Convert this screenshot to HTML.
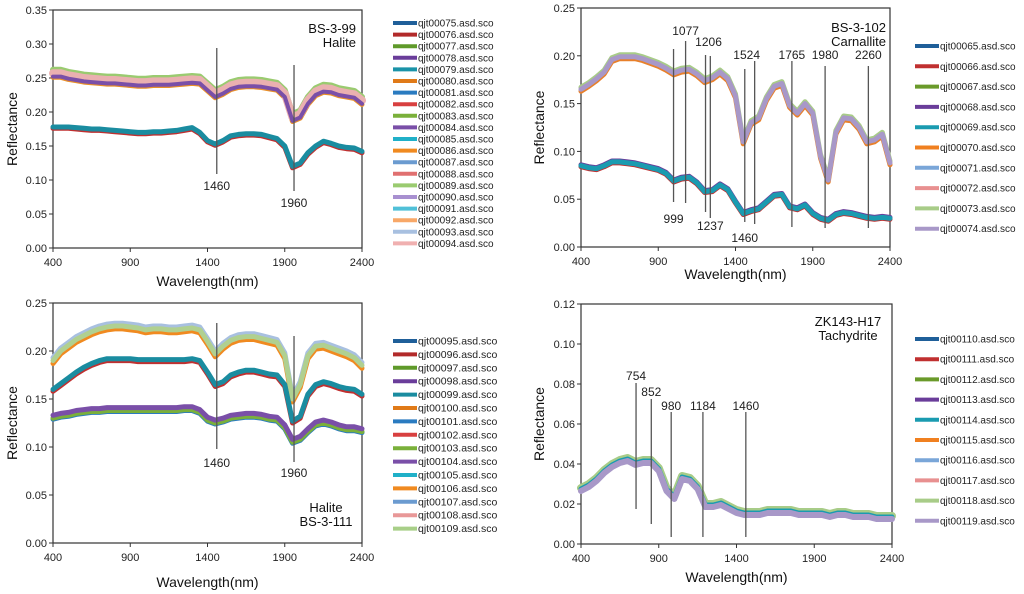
<!DOCTYPE html>
<html><head><meta charset="utf-8"><style>
body{margin:0;background:#fff;}
svg{display:block;font-family:"Liberation Sans",sans-serif;}
</style></head><body>
<svg id="fig" width="1024" height="594" viewBox="0 0 1024 594"></svg>
<script>
const wl = [400,450,500,550,600,650,700,750,800,850,900,950,1000,1050,1100,1150,1200,1250,1300,1350,1400,1450,1500,1550,1600,1650,1700,1750,1800,1850,1900,1950,2000,2050,2100,2150,2200,2250,2300,2350,2400];
const p1Upper = [0.255,0.255,0.252,0.25,0.248,0.247,0.246,0.245,0.245,0.244,0.243,0.242,0.242,0.243,0.243,0.243,0.244,0.245,0.246,0.245,0.235,0.225,0.23,0.237,0.24,0.241,0.241,0.24,0.238,0.236,0.225,0.19,0.195,0.215,0.228,0.233,0.232,0.228,0.226,0.224,0.215];
const p1Lower = [0.178,0.178,0.178,0.177,0.176,0.175,0.175,0.174,0.173,0.172,0.171,0.170,0.170,0.171,0.171,0.172,0.173,0.175,0.177,0.170,0.158,0.153,0.158,0.165,0.167,0.168,0.168,0.167,0.164,0.161,0.150,0.120,0.125,0.140,0.150,0.157,0.154,0.150,0.148,0.147,0.142];
const p2Upper = [0.165,0.170,0.176,0.183,0.196,0.199,0.199,0.199,0.197,0.194,0.191,0.187,0.182,0.185,0.186,0.181,0.174,0.177,0.183,0.176,0.158,0.11,0.13,0.135,0.155,0.168,0.171,0.148,0.14,0.15,0.14,0.095,0.07,0.12,0.135,0.134,0.125,0.11,0.112,0.118,0.088];
const p2Lower = [0.085,0.083,0.082,0.085,0.089,0.089,0.088,0.087,0.085,0.083,0.081,0.077,0.069,0.072,0.073,0.067,0.058,0.059,0.065,0.06,0.047,0.035,0.038,0.04,0.047,0.054,0.055,0.042,0.04,0.044,0.035,0.03,0.028,0.034,0.036,0.035,0.033,0.031,0.03,0.031,0.03];
const p3Top = [0.19,0.2,0.206,0.212,0.216,0.22,0.223,0.225,0.226,0.226,0.225,0.224,0.222,0.223,0.223,0.222,0.222,0.223,0.224,0.222,0.21,0.197,0.205,0.211,0.214,0.215,0.215,0.213,0.211,0.209,0.195,0.15,0.165,0.195,0.205,0.206,0.203,0.2,0.197,0.193,0.185];
const p3Mid = [0.16,0.166,0.172,0.178,0.183,0.187,0.19,0.192,0.192,0.192,0.192,0.191,0.191,0.191,0.191,0.191,0.191,0.191,0.192,0.19,0.178,0.165,0.168,0.175,0.178,0.18,0.18,0.178,0.176,0.175,0.165,0.127,0.132,0.155,0.165,0.168,0.166,0.163,0.161,0.16,0.155];
const p3Bot = [0.132,0.134,0.135,0.137,0.138,0.139,0.139,0.14,0.14,0.14,0.14,0.14,0.14,0.14,0.14,0.14,0.14,0.141,0.141,0.138,0.13,0.127,0.129,0.132,0.133,0.134,0.134,0.133,0.131,0.13,0.122,0.107,0.11,0.118,0.125,0.127,0.125,0.122,0.12,0.12,0.118];
const p4Main = [0.027,0.029,0.032,0.036,0.039,0.041,0.042,0.04,0.041,0.041,0.037,0.027,0.023,0.033,0.032,0.028,0.019,0.019,0.02,0.018,0.016,0.015,0.015,0.015,0.016,0.016,0.016,0.016,0.015,0.015,0.015,0.015,0.014,0.015,0.015,0.014,0.014,0.014,0.013,0.013,0.013];
const xTicks = [400,900,1400,1900,2400];
const p1Legend = ['qjt00075','qjt00076','qjt00077','qjt00078','qjt00079','qjt00080','qjt00081','qjt00082','qjt00083','qjt00084','qjt00085','qjt00086','qjt00087','qjt00088','qjt00089','qjt00090','qjt00091','qjt00092','qjt00093','qjt00094'];
const p2Legend = ['qjt00065','qjt00066','qjt00067','qjt00068','qjt00069','qjt00070','qjt00071','qjt00072','qjt00073','qjt00074'];
const p3Legend = ['qjt00095','qjt00096','qjt00097','qjt00098','qjt00099','qjt00100','qjt00101','qjt00102','qjt00103','qjt00104','qjt00105','qjt00106','qjt00107','qjt00108','qjt00109'];
const p4Legend = ['qjt00110','qjt00111','qjt00112','qjt00113','qjt00114','qjt00115','qjt00116','qjt00117','qjt00118','qjt00119'];
const p1Marks = [1460,1960];
const p2Marks = [999,1077,1206,1237,1460,1524,1765,1980,2260];
const p4Marks = [754,852,980,1184,1460];

const pal20 = ['#1f5f99','#b22a2a','#5f9a2a','#6a3d9a','#1a93a8','#e07a18','#2a7bc0','#d84040','#7ab03a','#7a4fa8','#20b0c8','#f08a20','#6b9bd0','#e07070','#9acb70','#a890d0','#50c0d8','#f8a868','#a8c0e0','#f0b0b0'];
const pal10 = ['#1f5f99','#c03030','#6a9a2a','#6a3d9a','#1a9bb0','#f08020','#7aa6d8','#e89090','#a8cc88','#a898c8'];
const pal15 = ['#1f5f99','#b22a2a','#5f9a2a','#6a3d9a','#1a8ca0','#e07a18','#2a7bc0','#d84040','#7ab03a','#7a4fa8','#20b0c8','#f08a20','#6b9bd0','#e89898','#a8cf88'];

const svg = document.getElementById('fig');
const NS = 'http://www.w3.org/2000/svg';
function mk(tag, attrs, parent){const e=document.createElementNS(NS,tag);for(const k in attrs)e.setAttribute(k,attrs[k]);(parent||svg).appendChild(e);return e;}
function txt(s, attrs, parent){const e=mk('text',attrs,parent);e.textContent=s;return e;}

function panel(cfg){
  const g = mk('g',{});
  
  
  const X = w => cfg.x0 + (w-400)/2000*(cfg.x1-cfg.x0);
  const Y = v => cfg.y1 - v/cfg.ymax*(cfg.y1-cfg.y0);
  const fr = mk('rect',{x:cfg.x0,y:cfg.y0,width:cfg.x1-cfg.x0,height:cfg.y1-cfg.y0,fill:'none',stroke:'#333','stroke-width':1.2},g);
  
  
  cfg.yTicks.forEach(v=>{
    mk('line',{x1:cfg.x0-4,x2:cfg.x0,y1:Y(v),y2:Y(v),stroke:'#333'},g);
    const t = txt(v.toFixed(2),{x:cfg.x0-6,y:Y(v)+4,'font-size':11,'text-anchor':'end',fill:'#222'},g);
    
    
  });
  xTicks.forEach(w=>{
    mk('line',{x1:X(w),x2:X(w),y1:cfg.y1,y2:cfg.y1+4,stroke:'#333'},g);
    const t = txt(String(w),{x:X(w),y:cfg.y1+18,'font-size':11,'text-anchor':'middle',fill:'#222'},g);
    
    
  });
  const xt = txt('Wavelength(nm)',{x:(cfg.x0+cfg.x1)/2,y:cfg.xTitleY,'font-size':14,'text-anchor':'middle',fill:'#111'},g);
  
  
  const cy=(cfg.y0+cfg.y1)/2;
  const tg = mk('g',{transform:`translate(${cfg.yTitleX} ${cy}) rotate(-90)`},g);
  const yt = txt('Reflectance',{x:0,y:0,'font-size':14,'text-anchor':'middle',fill:'#111'},tg);
  
  
  cfg.series.forEach(s=>{
    const pts = wl.map((w,i)=>X(w).toFixed(1)+','+Y(s.data[i]+(s.off||0)).toFixed(1)).join(' ');
    const pl = mk('polyline',{points:pts,fill:'none',stroke:s.color,'stroke-width':s.w||5,'stroke-linejoin':'round','stroke-linecap':'round'},g);
    
    
  });
  cfg.marks.forEach((w,i)=>{
    const m = cfg.markGeo[i];
    const ln = mk('line',{x1:X(w),x2:X(w),y1:m[0],y2:m[1],stroke:'#555','stroke-width':1.3},g);
    
    
    const t = txt(String(w),{x:X(w)+(m[3]||0),y:m[2],'font-size':12,'text-anchor':'middle',fill:'#222'},g);
    
    
  });
  cfg.title.forEach((s,i)=>{
    const t = txt(s,{x:cfg.titleX,y:cfg.titleY+i*14,'font-size':13,'text-anchor':cfg.titleAnchor||'end',fill:'#111'},g);
    
    
  });
  cfg.legend.forEach((n,i)=>{
    const y = cfg.legY + i*cfg.legDy;
    const lg = mk('g',{},g);
    
    
    mk('line',{x1:cfg.legX,x2:cfg.legX+24,y1:y,y2:y,stroke:cfg.pal[i],'stroke-width':4},lg);
    txt(n+'.asd.sco',{x:cfg.legX+25,y:y+3.5,'font-size':cfg.legFs||10,fill:'#222'},lg);
  });
}

panel({name:'panel-bs-3-99-halite',x0:53,x1:362,y0:10,y1:248,ymax:0.35,yTicks:[0,0.05,0.1,0.15,0.2,0.25,0.3,0.35],
  xTitleY:286,yTitleX:17,
  series:[{name:'upper-orange',data:p1Upper,color:'#e8902a',off:-0.004},{name:'upper-green',data:p1Upper,color:'#9acb70',off:0.007,w:6},{name:'upper-pink',data:p1Upper,color:'#eab0b0',off:0.002,w:8},{name:'upper-purple',data:p1Upper,color:'#7a4fa8',off:-0.003,w:4},
    {name:'lower-red',data:p1Lower,color:'#c03030',off:-0.002},{name:'lower-teal',data:p1Lower,color:'#1a8ca0',off:0}],
  marks:p1Marks,markGeo:[[48,174,190],[65,191,207]],
  title:['BS-3-99','Halite'],titleX:356,titleY:33,
  legend:p1Legend,pal:pal20,legX:393,legY:23,legDy:11.6,legFs:10});

panel({name:'panel-bs-3-102-carnallite',x0:581,x1:890,y0:8,y1:247,ymax:0.25,yTicks:[0,0.05,0.1,0.15,0.2,0.25],
  xTitleY:279,yTitleX:544,
  series:[{name:'upper-orange',data:p2Upper,color:'#e8802a',off:-0.002},{name:'upper-green',data:p2Upper,color:'#a8cc88',off:0.002},{name:'upper-lavender',data:p2Upper,color:'#a898c8',off:0},
    {name:'lower-red',data:p2Lower,color:'#c03030',off:-0.001},{name:'lower-purple',data:p2Lower,color:'#6a3d9a',off:0.001},{name:'lower-teal',data:p2Lower,color:'#1a9bb0',off:0}],
  marks:p2Marks,markGeo:[[49,202,223],[41,203,35],[55,212,46,3],[56,218,230],[69,222,242],[61,224,59,-8],[61,227,59],[66,228,59],[66,228,59]],
  title:['BS-3-102','Carnallite'],titleX:886,titleY:32,
  legend:p2Legend,pal:pal10,legX:915,legY:46,legDy:20.3});

panel({name:'panel-bs-3-111-halite',x0:53,x1:362,y0:303,y1:543,ymax:0.25,yTicks:[0,0.05,0.1,0.15,0.2,0.25],
  xTitleY:587,yTitleX:17,
  series:[{name:'top-orange',data:p3Top,color:'#f08a20',off:-0.003},{name:'top-blue',data:p3Top,color:'#a8c0e0',off:0.003},{name:'top-green',data:p3Top,color:'#b0d090',off:0},
    {name:'mid-red',data:p3Mid,color:'#c03030',off:-0.002},{name:'mid-teal',data:p3Mid,color:'#1a8ca0',off:0},
    {name:'bot-blue',data:p3Bot,color:'#2a7bc0',off:-0.003},{name:'bot-green',data:p3Bot,color:'#7ab03a',off:-0.002},{name:'bot-purple',data:p3Bot,color:'#7a4fa8',off:0.001}],
  marks:p1Marks,markGeo:[[323,449,467],[336,462,477]],
  title:['Halite','BS-3-111'],titleX:326,titleY:512,titleAnchor:'middle',
  legend:p3Legend,pal:pal15,legX:393,legY:341,legDy:13.4,legFs:10.5});

panel({name:'panel-zk143-h17-tachydrite',x0:581,x1:892,y0:304,y1:544,ymax:0.12,yTicks:[0,0.02,0.04,0.06,0.08,0.1,0.12],
  xTitleY:582,yTitleX:544,
  series:[{name:'main-green',data:p4Main,color:'#a8cc88',off:0.001,w:8},{name:'main-teal',data:p4Main,color:'#1a9bb0',off:0.0005},{name:'main-lavender',data:p4Main,color:'#a898c8',off:-0.0005,w:6}],
  marks:p4Marks,markGeo:[[383,509,380],[399,524,396],[412,537,410],[412,537,410],[412,537,410]],
  title:['ZK143-H17','Tachydrite'],titleX:848,titleY:326,titleAnchor:'middle',
  legend:p4Legend,pal:pal10,legX:915,legY:339,legDy:20.2});
</script>
</body></html>
